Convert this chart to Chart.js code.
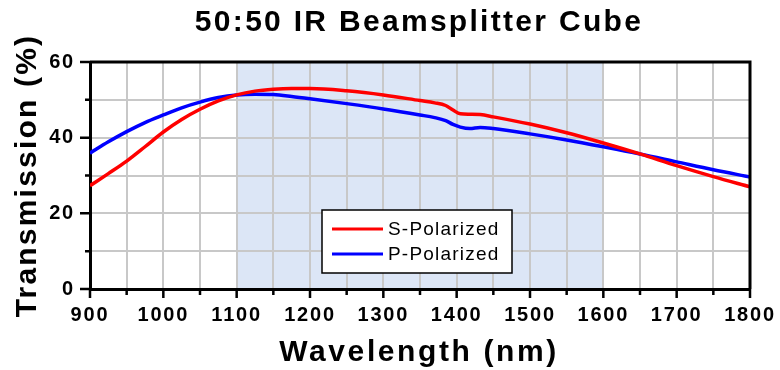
<!DOCTYPE html>
<html>
<head>
<meta charset="utf-8">
<script src="https://cdn.jsdelivr.net/npm/chart.js@4.4.1/dist/chart.umd.min.js"></script>
<style>
  html, body { margin: 0; padding: 0; background: #fff; }
  #wrap { width: 780px; height: 370px; }
</style>
</head>
<body>
<div id="wrap"><canvas id="chart" width="780" height="370"></canvas></div>
<script>
// wavelength (nm) and transmission (%)
const wavelengths = [900, 925, 950, 975, 1000, 1025, 1050, 1075, 1100, 1125, 1150, 1175, 1200, 1250, 1300, 1350,
  1370, 1385, 1395, 1405, 1418, 1432, 1450, 1500, 1550, 1600, 1650, 1700, 1750, 1800];
const sPolarized = [27.3, 30.5, 33.8, 37.6, 41.5, 44.8, 47.5, 49.7, 51.3, 52.3, 52.8, 53.0, 53.0, 52.4, 51.3, 49.8,
  49.2, 48.5, 47.3, 46.3, 46.2, 46.1, 45.5, 43.6, 41.3, 38.6, 35.7, 32.6, 29.7, 27.0];
const pPolarized = [35.9, 38.9, 41.6, 44.0, 46.0, 47.9, 49.4, 50.6, 51.3, 51.5, 51.4, 50.9, 50.3, 49.0, 47.6, 46.0,
  45.3, 44.5, 43.5, 42.8, 42.4, 42.7, 42.4, 41.0, 39.4, 37.6, 35.7, 33.6, 31.5, 29.6];
const seriesNames = ['S-Polarized', 'P-Polarized'];
const xTickLabels = [900, 1000, 1100, 1200, 1300, 1400, 1500, 1600, 1700, 1800];
const yTickLabels = [0, 20, 40, 60];
const shadedBand = [1100, 1600];

const FONT = "'Liberation Sans', Arial, sans-serif";

const toPoints = (ys) => wavelengths.map((w, i) => ({ x: w, y: ys[i] }));

// band, frame, tick marks, titles and legend
const decorations = {
    id: 'decorations',
    beforeDraw(chart) {
        const { ctx, chartArea: a, scales: { x } } = chart;
        ctx.save();
        ctx.fillStyle = '#fff';
        ctx.fillRect(0, 0, chart.width, chart.height);
        ctx.fillStyle = '#dce6f6';
        const x0 = x.getPixelForValue(shadedBand[0]);
        const x1 = x.getPixelForValue(shadedBand[1]);
        ctx.fillRect(x0, a.top, x1 - x0, a.bottom - a.top);
        ctx.restore();
        ctx.letterSpacing = '1.8px';
    },
    afterDraw(chart) {
        const { ctx, chartArea: a, scales: { x, y } } = chart;
        ctx.save();
        ctx.strokeStyle = '#000';
        ctx.lineWidth = 3;
        ctx.beginPath();
        ctx.moveTo(a.left, a.top);
        ctx.lineTo(a.right, a.top);
        ctx.lineTo(a.right, a.bottom);
        ctx.stroke();

        // tick marks, outward
        ctx.lineWidth = 2.5;
        ctx.beginPath();
        for (let v = 900; v <= 1800; v += 50) {
            const px = x.getPixelForValue(v);
            ctx.moveTo(px, a.bottom);
            ctx.lineTo(px, a.bottom + (v % 100 === 0 ? 9 : 6));
        }
        for (let v = 0; v <= 60; v += 10) {
            const py = y.getPixelForValue(v);
            ctx.moveTo(a.left, py);
            ctx.lineTo(a.left - (v % 20 === 0 ? 10 : 5), py);
        }
        ctx.stroke();

        // titles
        ctx.fillStyle = '#000';
        ctx.textAlign = 'center';
        ctx.textBaseline = 'alphabetic';
        ctx.font = `bold 30px ${FONT}`;
        ctx.letterSpacing = '2.3px';
        ctx.fillText('50:50 IR Beamsplitter Cube', 419, 31);
        ctx.letterSpacing = '2.6px';
        ctx.fillText('Wavelength (nm)', 419, 361);
        ctx.save();
        ctx.translate(36, (a.top + a.bottom) / 2);
        ctx.rotate(-Math.PI / 2);
        ctx.letterSpacing = '2.2px';
        ctx.fillText('Transmission (%)', 0, 0);
        ctx.restore();

        // legend
        const lx = 322, ly = 210, lw = 190, lh = 63;
        ctx.fillStyle = '#fff';
        ctx.fillRect(lx, ly, lw, lh);
        ctx.lineWidth = 1.5;
        ctx.strokeRect(lx, ly, lw, lh);
        ctx.font = `19px ${FONT}`;
        ctx.letterSpacing = '1.2px';
        ctx.textAlign = 'left';
        ctx.textBaseline = 'middle';
        chart.data.datasets.forEach((ds, i) => {
            const ry = ly + 19 + i * 25;
            ctx.strokeStyle = ds.borderColor;
            ctx.lineWidth = 3;
            ctx.beginPath();
            ctx.moveTo(lx + 10, ry);
            ctx.lineTo(lx + 61, ry);
            ctx.stroke();
            ctx.fillStyle = '#000';
            ctx.fillText(ds.label, lx + 66, ry + 1);
        });
        ctx.restore();
        ctx.letterSpacing = '0px';
    }
};

const ctx = document.getElementById('chart').getContext('2d');
new Chart(ctx, {
    type: 'line',
    data: {
        datasets: [
            { label: seriesNames[0], data: toPoints(sPolarized), borderColor: '#ff0000' },
            { label: seriesNames[1], data: toPoints(pPolarized), borderColor: '#0000ff' }
        ]
    },
    options: {
        responsive: false,
        animation: false,
        layout: { padding: { top: 62, right: 30, left: 0, bottom: 0 } },
        elements: {
            line: { borderWidth: 3.5, cubicInterpolationMode: 'monotone', fill: false },
            point: { radius: 0, hoverRadius: 0 }
        },
        plugins: {
            legend: { display: false },
            title: { display: false },
            tooltip: { enabled: false }
        },
        scales: {
            x: {
                type: 'linear',
                min: 900,
                max: 1800,
                afterFit: (s) => { s.height = 81; s.paddingLeft = 0; s.paddingRight = 0; },
                grid: { color: '#c8c8c8', lineWidth: 2, drawTicks: false },
                border: { color: '#000', width: 3 },
                ticks: {
                    stepSize: 50,
                    autoSkip: false,
                    maxRotation: 0,
                    padding: 14,
                    color: '#000',
                    font: { family: FONT, size: 20, weight: 'bold' },
                    callback: (v) => xTickLabels.includes(v) ? String(v) : ''
                }
            },
            y: {
                min: 0,
                max: 60,
                afterFit: (s) => { s.width = 90; s.paddingTop = 0; s.paddingBottom = 0; },
                grid: { color: '#c8c8c8', lineWidth: 2, drawTicks: false },
                border: { color: '#000', width: 3 },
                ticks: {
                    stepSize: 10,
                    autoSkip: false,
                    padding: 15,
                    color: '#000',
                    font: { family: FONT, size: 20, weight: 'bold' },
                    callback: (v) => yTickLabels.includes(v) ? String(v) : ''
                }
            }
        }
    },
    plugins: [decorations]
});
</script>
</body>
</html>
